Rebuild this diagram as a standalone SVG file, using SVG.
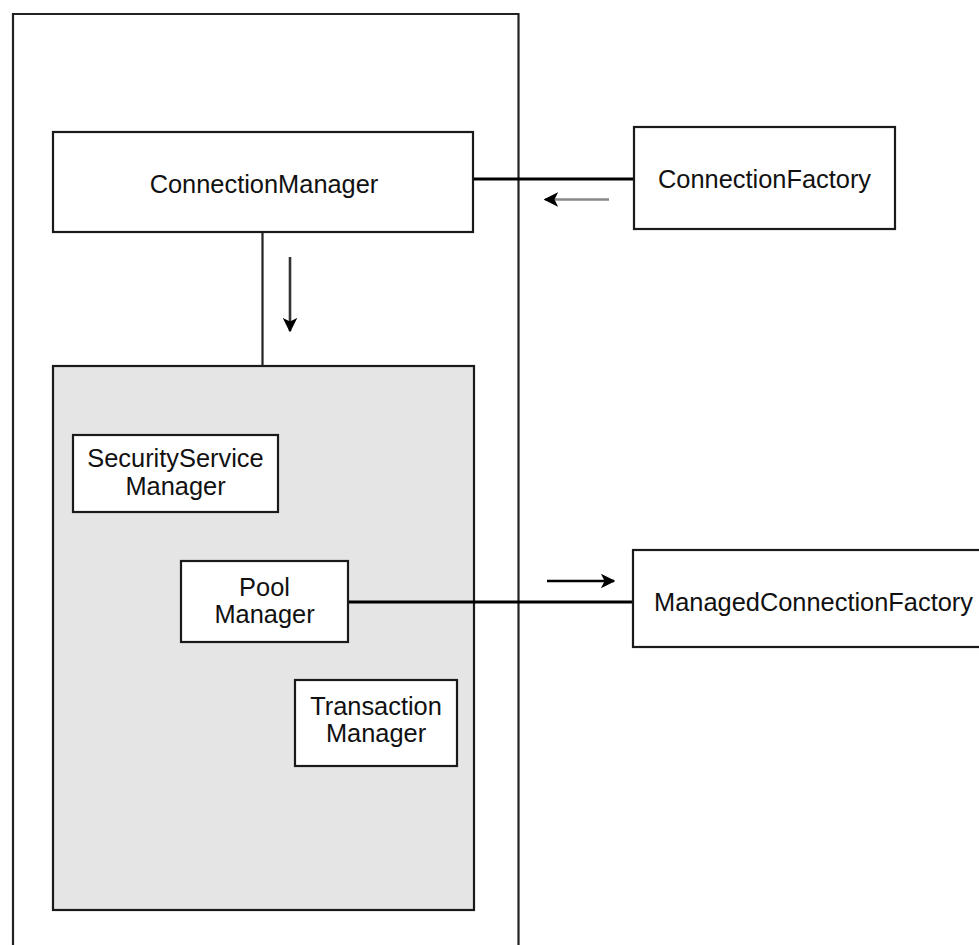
<svg xmlns="http://www.w3.org/2000/svg" width="979" height="945" viewBox="0 0 979 945">
<style>
.box{fill:#fff;stroke:#1a1a1a;stroke-width:2.2}
.gray{fill:#e5e5e5;stroke:#1a1a1a;stroke-width:2.2}
.lbl{font-family:"Liberation Sans",Arial,sans-serif;font-size:25.4px;fill:#111;text-anchor:middle}
.conn{stroke:#000;stroke-width:3;fill:none}
.thin{stroke:#222;stroke-width:2.2;fill:none}
</style>
<defs>
<marker id="ah" viewBox="0 0 10 10" refX="9" refY="5" markerWidth="5.6" markerHeight="5.6" orient="auto" markerUnits="strokeWidth">
<path d="M0,0 L10,5 L0,10 L2.5,5 Z" fill="#000"/>
</marker>
</defs>
<rect width="979" height="945" fill="#fff"/>
<g id="container">
<path class="thin" d="M13,950 V14 H518.5 V950"/>
</g>
<g id="pool-area">
<rect class="gray" x="53" y="366" width="421" height="544"/>
</g>
<g id="connectors">
<line class="conn" x1="473" y1="179" x2="634" y2="179"/>
<line class="thin" x1="262.5" y1="232" x2="262.5" y2="366"/>
<line class="conn" x1="348" y1="602" x2="633" y2="602"/>
<line stroke="#888" stroke-width="2.6" x1="609" y1="199.5" x2="545" y2="199.5" marker-end="url(#ah)"/>
<line stroke="#333" stroke-width="2.6" x1="290" y1="257" x2="290" y2="331" marker-end="url(#ah)"/>
<line stroke="#000" stroke-width="2.6" x1="547" y1="581" x2="614" y2="581" marker-end="url(#ah)"/>
</g>
<g id="connection-manager">
<rect class="box" x="53" y="132" width="420" height="100"/>
<text class="lbl" x="264" y="193">ConnectionManager</text>
</g>
<g id="connection-factory">
<rect class="box" x="634" y="127" width="261" height="102"/>
<text class="lbl" x="764.5" y="188">ConnectionFactory</text>
</g>
<g id="security-service-manager">
<rect class="box" x="73" y="435" width="205" height="77"/>
<text class="lbl" x="175.5" y="467">SecurityService</text>
<text class="lbl" x="175.5" y="495">Manager</text>
</g>
<g id="pool-manager">
<rect class="box" x="181" y="561" width="167" height="81"/>
<text class="lbl" x="264.5" y="596">Pool</text>
<text class="lbl" x="264.5" y="623">Manager</text>
</g>
<g id="transaction-manager">
<rect class="box" x="295" y="680" width="162" height="86"/>
<text class="lbl" x="376" y="715">Transaction</text>
<text class="lbl" x="376" y="742">Manager</text>
</g>
<g id="managed-connection-factory">
<rect class="box" x="633" y="550" width="360" height="97"/>
<text class="lbl" x="813.5" y="611">ManagedConnectionFactory</text>
</g>
</svg>
